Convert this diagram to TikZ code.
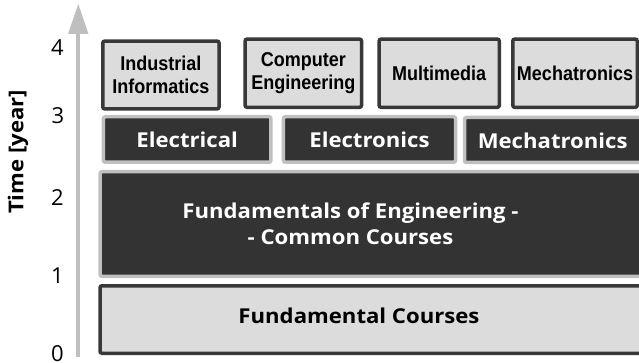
\documentclass[tikz,border=0pt]{standalone}
\usepackage{fontspec}
\newfontfamily\wideb[FakeStretch=1.08]{Open Sans}
\newfontfamily\tickf{Open Sans}
\newfontfamily\narrowf[FakeStretch=0.9]{Liberation Sans}
\definecolor{darkfill}{HTML}{333333}
\definecolor{lightfill}{HTML}{DCDCDC}
\definecolor{lightborder}{HTML}{C0C0C0}
\definecolor{darkborder}{HTML}{383838}
\definecolor{axiscol}{HTML}{BFBFBF}
\begin{document}
\begin{tikzpicture}[x=1pt,y=-1pt,
  topbox/.style={draw=darkborder, fill=lightfill, line width=3.5pt, rounded corners=2pt,
    inner sep=0pt, align=center, font=\narrowf\bfseries\fontsize{20}{23.5}\selectfont, text=black},
  darkbox/.style={draw=lightborder, fill=darkfill, line width=3.5pt, rounded corners=2pt,
    inner sep=0pt, align=center, font=\wideb\bfseries\fontsize{20.5}{25}\selectfont, text=white},
  basebox/.style={draw=darkborder, fill=lightfill, line width=3.5pt, rounded corners=2pt, inner sep=0pt},
  bigtext/.style={align=center, font=\wideb\bfseries\fontsize{20.5}{26}\selectfont, inner sep=0pt},
  ticklab/.style={font=\tickf\fontsize{22}{22}\selectfont, text=black, inner sep=0pt}
]
\useasboundingbox (0,0) rectangle (639,363);
\clip (0,0) rectangle (639,363);
\fill[white] (0,0) rectangle (639,363);

% axis
\coordinate (axbot) at (77.5,357);
\coordinate (axtop) at (77.5,33);
\draw[axiscol, line width=4pt] (axbot) -- (axtop);
\fill[axiscol] (78.3,4) -- (68,34) -- (88.5,34) -- cycle;

% ticks
\node[ticklab] (t4) at (57.5,47.5) {4};
\node[ticklab] (t3) at (58,115.5) {3};
\node[ticklab] (t2) at (57.5,197.5) {2};
\node[ticklab] (t1) at (57.5,275.5) {1};
\node[ticklab] (t0) at (57.5,354) {0};
\node[rotate=90, font=\wideb\bfseries\fontsize{20.5}{20.5}\selectfont, inner sep=0pt] (ylab) at (18,152) {Time [year]};

% top row
\node[topbox, minimum width=116.2pt, minimum height=67.9pt] (ii) at (160.9,75) {Industrial\\Informatics};
\node[topbox, minimum width=116.5pt, minimum height=68.2pt] (ce) at (303.3,73.2) {Computer\\Engineering};
\node[topbox, minimum width=120.2pt, minimum height=68.2pt] (mm) at (439.2,73.2) {Multimedia};
\node[topbox, minimum width=124.5pt, minimum height=68.2pt] (mt) at (575,73.2) {Mechatronics};

% second row
\node[darkbox, minimum width=167.5pt, minimum height=45.5pt] (el) at (187.2,139.5) {Electrical};
\node[darkbox, minimum width=172.1pt, minimum height=45.5pt] (ec) at (369.5,139.5) {Electronics};
\node[darkbox, minimum width=178.8pt, minimum height=45pt] (m2) at (553.9,140) {};
\node[darkbox, draw=none, fill=none] (m2t) at (552.7,141) {Mechatronics};

% fundamentals of engineering
\node[darkbox, minimum width=546pt, minimum height=104.5pt] (fe) at (373,224) {};
\node[bigtext, text=white] (fet) at (350.5,224) {Fundamentals of Engineering -\\- Common Courses};

% fundamental courses
\node[basebox, minimum width=546pt, minimum height=67.5pt] (fc) at (373,319.5) {};
\node[bigtext, text=black] (fct) at (359,316) {Fundamental Courses};
\end{tikzpicture}
\end{document}
